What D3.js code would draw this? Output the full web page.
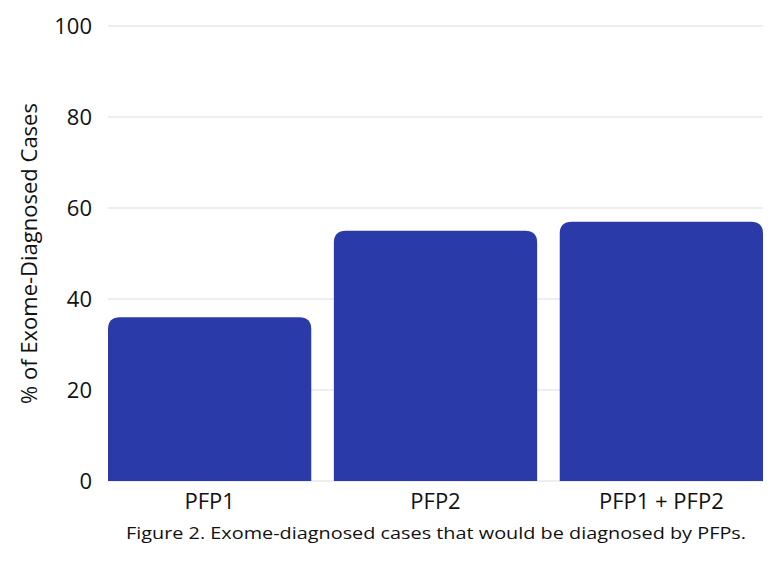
<!DOCTYPE html>
<html><head><meta charset="utf-8">
<script src="https://cdn.jsdelivr.net/npm/d3@7"></script>
<style>body{margin:0;background:#fff}</style>
</head><body><svg id="c" width="780" height="564"></svg>
<script>
const categories = ["PFP1", "PFP2", "PFP1 + PFP2"];
const values = [36, 55, 57];
const yTicks = [0, 20, 40, 60, 80, 100];
const yTitle = "% of Exome-Diagnosed Cases";
const caption = "Figure 2. Exome-diagnosed cases that would be diagnosed by PFPs.";

const svg = d3.select("#c");
const x = d3.scaleBand().domain(categories).range([96.7, 774.3]).paddingInner(0.1).paddingOuter(0.05);
const y = d3.scaleLinear().domain([0, 100]).range([481, 26]);
const x0 = x(categories[0]), x1 = x(categories[categories.length-1]) + x.bandwidth();

svg.append("g").selectAll("line").data(yTicks).join("line")
  .attr("x1", x0).attr("x2", x1).attr("y1", d => y(d)).attr("y2", d => y(d))
  .attr("stroke", "#dedede").attr("stroke-width", 1.2);

svg.append("g").selectAll("text").data(yTicks).join("text")
  .attr("x", 92).attr("y", d => y(d)).attr("dy", "0.36em").attr("text-anchor", "end")
  .attr("font-family", "Open Sans").attr("font-size", 22).attr("fill", "#111").text(d => d);

const r = 12;
svg.append("g").selectAll("path").data(categories).join("path")
  .attr("fill", "#2a3ba9")
  .attr("d", (c, i) => {
    const a = x(c), b = a + x.bandwidth(), t = y(values[i]), base = y(0);
    return `M${a},${base}V${t+r}Q${a},${t} ${a+r},${t}H${b-r}Q${b},${t} ${b},${t+r}V${base}Z`;
  });

svg.append("g").selectAll("text").data(categories).join("text")
  .attr("x", c => x(c) + x.bandwidth()/2).attr("y", 509).attr("text-anchor", "middle")
  .attr("font-family", "Open Sans").attr("font-size", 22).attr("fill", "#111").text(c => c);

svg.append("text").attr("transform", `translate(37,${y(50)}) rotate(-90)`)
  .attr("text-anchor", "middle").attr("font-family", "Open Sans").attr("font-size", 22)
  .attr("fill", "#111").text(yTitle);

svg.append("text").attr("x", 126).attr("y", 539)
  .attr("textLength", 620).attr("lengthAdjust", "spacingAndGlyphs")
  .attr("font-family", "Open Sans").attr("font-size", 17).attr("fill", "#111").text(caption);
</script></body></html>
